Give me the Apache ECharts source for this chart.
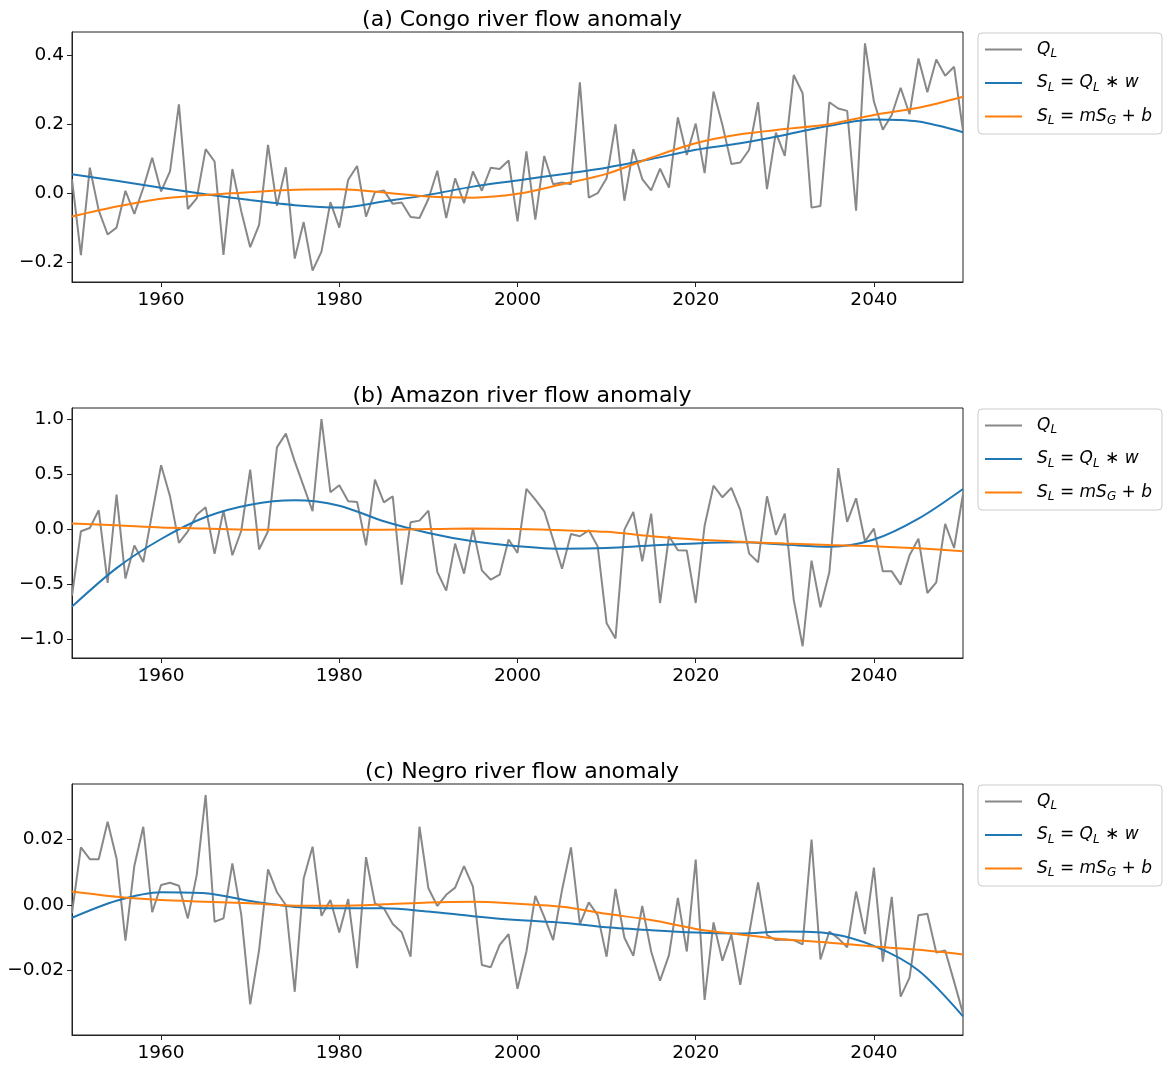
<!DOCTYPE html>
<html>
<head>
<meta charset="utf-8">
<script src="https://cdn.jsdelivr.net/npm/echarts@6/dist/echarts.min.js"></script>
<style>
  body { margin: 0; background: #fff; }
  #chart { width: 1166px; height: 1067px; }
</style>
</head>
<body>
<div id="chart"></div>
<script>
// ======================= data =======================
// yearly Q_L values, 1950..2050
let years = []
for (let y = 1950; y <= 2050; y++) years.push(y)

let qlCongo = [
  0.04, -0.18, 0.074, -0.05, -0.12, -0.10, 0.007, -0.06, 0.015, 0.103,
  0.005, 0.063, 0.258, -0.046, -0.015, 0.128, 0.092, -0.179, 0.07, -0.053,
  -0.157, -0.092, 0.14, -0.037, 0.075, -0.19, -0.084, -0.225, -0.17, -0.026,
  -0.10, 0.039, 0.079, -0.068, 0.003, 0.008, -0.031, -0.027, -0.069, -0.072,
  -0.017, 0.065, -0.072, 0.043, -0.029, 0.063, 0.007, 0.074, 0.07, 0.095,
  -0.082, 0.121, -0.077, 0.108, 0.026, 0.031, 0.026, 0.322, -0.013, 0.0,
  0.043, 0.2, -0.022, 0.128, 0.041, 0.008, 0.071, 0.016, 0.22, 0.111,
  0.202, 0.058, 0.295, 0.198, 0.085, 0.089, 0.126, 0.264, 0.012, 0.176,
  0.108, 0.343, 0.29, -0.042, -0.037, 0.264, 0.246, 0.239, -0.051, 0.435,
  0.266, 0.184, 0.227, 0.306, 0.229, 0.391, 0.293, 0.388, 0.341, 0.367,
  0.181
]
let qlAmazon = [
  -0.60, -0.015, 0.015, 0.176, -0.485, 0.318, -0.445, -0.145, -0.294, 0.15,
  0.585, 0.303, -0.12, -0.015, 0.136, 0.203, -0.22, 0.173, -0.233, -0.01,
  0.545, -0.18, -0.015, 0.748, 0.873, 0.62, 0.394, 0.167, 1.006, 0.34,
  0.403, 0.258, 0.252, -0.142, 0.455, 0.248, 0.303, -0.5, 0.067, 0.082,
  0.173, -0.385, -0.555, -0.127, -0.4, 0.009, -0.37, -0.455, -0.41, -0.09,
  -0.212, 0.37, 0.273, 0.167, -0.09, -0.355, -0.04, -0.06, -0.006, -0.152,
  -0.85, -0.99, 0.0, 0.16, -0.288, 0.145, -0.667, -0.06, -0.188, -0.19,
  -0.667, 0.036, 0.4, 0.294, 0.379, 0.18, -0.218, -0.297, 0.303, -0.048,
  0.145, -0.636, -1.06, -0.282, -0.706, -0.388, 0.56, 0.07, 0.285, -0.106,
  0.009, -0.379, -0.379, -0.5, -0.233, -0.082, -0.576, -0.479, 0.052, -0.167,
  0.324
]
let qlNegro = [
  -0.0025, 0.0176, 0.014, 0.014, 0.0254, 0.0142, -0.0109, 0.012, 0.0239, -0.0022,
  0.0061, 0.0068, 0.0059, -0.0041, 0.0092, 0.0336, -0.0051, -0.0041, 0.0127, -0.003,
  -0.0303, -0.0137, 0.0109, 0.0039, 0.0, -0.0265, 0.0081, 0.0178, -0.0033, 0.0015,
  -0.0084, 0.0018, -0.0193, 0.0146, 0.0005, -0.001, -0.0058, -0.0083, -0.0158, 0.0239,
  0.0051, -0.0003, 0.0031, 0.0053, 0.0119, 0.0056, -0.0183, -0.019, -0.0122, -0.0089,
  -0.0256, -0.0142, 0.0028, -0.0036, -0.0107, 0.0046, 0.0176, -0.0059, 0.0008, -0.0031,
  -0.0158, 0.0049, -0.01, -0.0155, -0.0003, -0.0142, -0.0231, -0.0153, 0.0022, -0.0142,
  0.0139, -0.029, -0.0053, -0.017, -0.009, -0.0244, -0.0087, 0.0069, -0.0092, -0.0107,
  -0.0105, -0.0107, -0.012, 0.02, -0.0166, -0.0081, -0.0102, -0.0129, 0.0041, -0.0089,
  0.0114, -0.0173, 0.0025, -0.028, -0.0222, -0.0031, -0.0027, -0.0145, -0.0139, -0.0234,
  -0.0331
]

// smooth curves, sampled every 5 years
let smoothYears = [1950, 1955, 1960, 1965, 1970, 1975, 1980, 1985, 1990, 1995, 2000,
  2005, 2010, 2015, 2020, 2025, 2030, 2035, 2040, 2045, 2050]
let convCongo = [0.055, 0.036, 0.016, -0.003, -0.02, -0.035, -0.042, -0.024, -0.005, 0.019, 0.037,
  0.055, 0.074, 0.099, 0.126, 0.145, 0.169, 0.196, 0.214, 0.208, 0.177]
let regCongo = [-0.068, -0.039, -0.016, -0.005, 0.003, 0.01, 0.011, 0.002, -0.01, -0.013, -0.002,
  0.026, 0.056, 0.103, 0.145, 0.171, 0.186, 0.2, 0.227, 0.248, 0.28]
let convAmazon = [-0.70, -0.35, -0.085, 0.115, 0.227, 0.267, 0.218, 0.076, -0.03, -0.106, -0.15,
  -0.173, -0.167, -0.145, -0.125, -0.115, -0.136, -0.156, -0.09, 0.1, 0.37]
let regAmazon = [0.055, 0.04, 0.02, 0.01, 0.0, 0.0, 0.0, 0.0, 0.005, 0.01, 0.006,
  -0.006, -0.02, -0.06, -0.09, -0.11, -0.127, -0.14, -0.15, -0.17, -0.197]
let convNegro = [-0.0039, 0.0013, 0.0039, 0.0036, 0.0012, -0.0006, -0.001, -0.001, -0.002, -0.0034, -0.0046,
  -0.0054, -0.0068, -0.0077, -0.0084, -0.0087, -0.0081, -0.0087, -0.0125, -0.0200, -0.0340]
let regNegro = [0.0041, 0.0025, 0.0015, 0.001, 0.0005, -0.0002, -0.0002, 0.0002, 0.0008, 0.001, 0.0004,
  -0.0005, -0.0027, -0.0046, -0.0073, -0.009, -0.0105, -0.0115, -0.0127, -0.0137, -0.0151]

let titles = ['(a) Congo river flow anomaly', '(b) Amazon river flow anomaly', '(c) Negro river flow anomaly']
let xTicks = [1960, 1980, 2000, 2020, 2040]
let yTicks = [[-0.2, 0.0, 0.2, 0.4], [-1.0, -0.5, 0.0, 0.5, 1.0], [-0.02, 0.0, 0.02]]
let yDigits = [1, 1, 2]
let yRange = [[-0.258, 0.468], [-1.167, 1.106], [-0.0397, 0.03695]]

// ======================= layout =======================
let gridTops = [32, 408, 784]
let gridH = [250, 250, 251]
let FONT = 'DejaVu Sans'

function fmt(v, d) {
  let s = Math.abs(v) < 1e-9 ? (0).toFixed(d) : v.toFixed(d)
  return s.replace('-', '\u2212')
}
function pairs(xs, ys) {
  return xs.map((x, i) => [x, ys[i]])
}

let qlSets = [qlCongo, qlAmazon, qlNegro]
let convSets = [convCongo, convAmazon, convNegro]
let regSets = [regCongo, regAmazon, regNegro]

let grid = [], xAxis = [], yAxis = [], title = [], legend = [], series = []

for (let k = 0; k < 3; k++) {
  grid.push({
    left: 72, top: gridTops[k], width: 891, height: gridH[k],
    show: true, borderColor: '#222', borderWidth: 1, backgroundColor: 'transparent'
  })
  xAxis.push({
    type: 'value', gridIndex: k, min: 1950, max: 2050,
    axisLine: { show: true, onZero: false, lineStyle: { color: '#222' } },
    axisTick: { show: true, inside: false, length: 5, customValues: xTicks, lineStyle: { color: '#222' } },
    axisLabel: {
      customValues: xTicks, color: '#000', fontSize: 18.5, fontFamily: FONT, margin: 9,
      formatter: (v) => String(v)
    },
    splitLine: { show: false }
  })
  yAxis.push({
    type: 'value', gridIndex: k, min: yRange[k][0], max: yRange[k][1],
    axisLine: { show: true, onZero: false, lineStyle: { color: '#222' } },
    axisTick: { show: true, inside: false, length: 5, customValues: yTicks[k], lineStyle: { color: '#222' } },
    axisLabel: {
      customValues: yTicks[k], color: '#000', fontSize: 18.5, fontFamily: FONT, margin: 8,
      formatter: (v) => fmt(v, yDigits[k])
    },
    splitLine: { show: false }
  })
  title.push({
    text: titles[k], left: 517, top: gridTops[k] - 28, textAlign: 'center',
    textStyle: { fontSize: 22, fontWeight: 'normal', color: '#000', fontFamily: FONT }
  })
  legend.push({
    orient: 'vertical', left: 978, top: gridTops[k] + 1,
    data: ['QL', 'conv', 'reg'],
    icon: 'rect',
    itemWidth: 37, itemHeight: 2, itemGap: 14.5,
    padding: [8, 10, 7, 7],
    backgroundColor: 'rgba(255,255,255,0.8)',
    borderColor: '#cccccc', borderWidth: 1, borderRadius: 4,
    formatter: function (name) {
      if (name === 'QL') return '{i|Q}{s|L}'
      if (name === 'conv') return '{i|S}{s|L}{n| = }{i|Q}{s|L}{n| \u2217 }{i|w}'
      return '{i|S}{s|L}{n| = }{i|mS}{s|G}{n| + }{i|b}'
    },
    textStyle: {
      color: '#000', fontFamily: FONT, padding: [0, 0, 0, 10],
      rich: {
        i: { fontStyle: 'italic', fontSize: 17, fontFamily: FONT, color: '#000' },
        s: { fontStyle: 'italic', fontSize: 12, fontFamily: FONT, color: '#000', padding: [9, 0, 0, 0] },
        n: { fontSize: 17, fontFamily: FONT, color: '#000' }
      }
    }
  })
  series.push({
    name: 'QL', type: 'line', xAxisIndex: k, yAxisIndex: k,
    data: pairs(years, qlSets[k]),
    symbol: 'none', color: '#888888',
    lineStyle: { color: '#888888', width: 2 }
  })
  series.push({
    name: 'conv', type: 'line', xAxisIndex: k, yAxisIndex: k,
    data: pairs(smoothYears, convSets[k]), smooth: 0.3,
    symbol: 'none', color: '#1f77b4',
    lineStyle: { color: '#1f77b4', width: 2 }
  })
  series.push({
    name: 'reg', type: 'line', xAxisIndex: k, yAxisIndex: k,
    data: pairs(smoothYears, regSets[k]), smooth: 0.3,
    symbol: 'none', color: '#ff7f0e',
    lineStyle: { color: '#ff7f0e', width: 2 }
  })
}

let myChart = echarts.init(document.getElementById('chart'))
let option = {
  animation: false,
  backgroundColor: '#fff',
  textStyle: { fontFamily: FONT },
  title: title,
  legend: legend,
  grid: grid,
  xAxis: xAxis,
  yAxis: yAxis,
  series: series
}
myChart.setOption(option)
</script>
</body>
</html>
